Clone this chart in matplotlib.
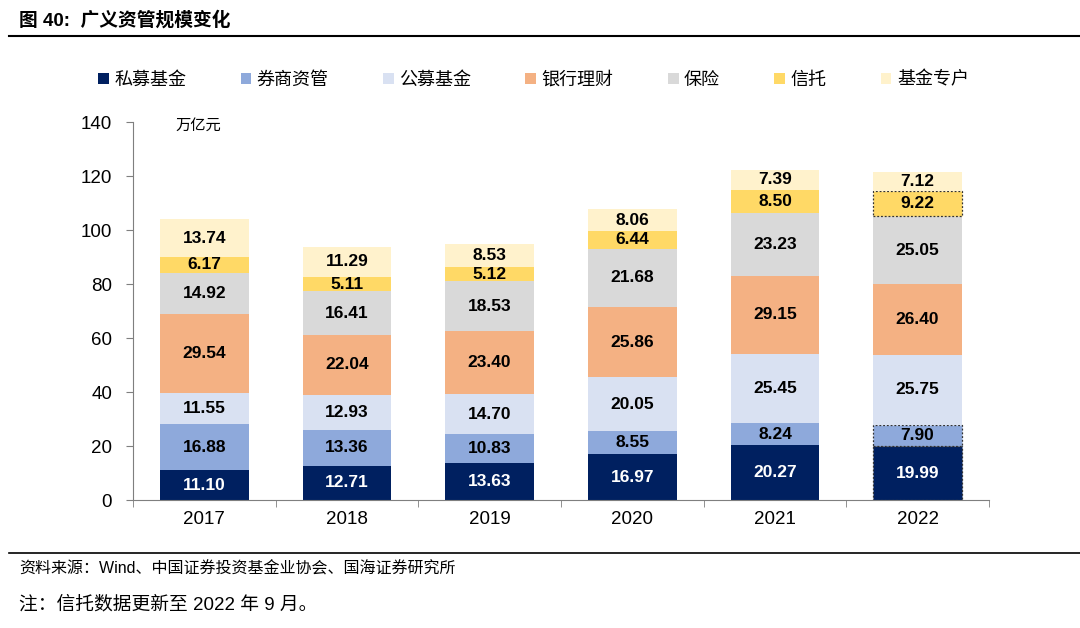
import matplotlib.pyplot as plt
import numpy as np

plt.rcParams['font.family'] = ['Liberation Sans', 'Noto Sans CJK SC', 'DejaVu Sans']

years = ['2017', '2018', '2019', '2020', '2021', '2022']
series_names = ['私募基金', '券商资管', '公募基金', '银行理财', '保险', '信托', '基金专户']
simu = [11.10, 12.71, 13.63, 16.97, 20.27, 19.99]
quanshang = [16.88, 13.36, 10.83, 8.55, 8.24, 7.90]
gongmu = [11.55, 12.93, 14.70, 20.05, 25.45, 25.75]
yinhang = [29.54, 22.04, 23.40, 25.86, 29.15, 26.40]
baoxian = [14.92, 16.41, 18.53, 21.68, 23.23, 25.05]
xintuo = [6.17, 5.11, 5.12, 6.44, 8.50, 9.22]
zhuanhu = [13.74, 11.29, 8.53, 8.06, 7.39, 7.12]

colors = ['#002060', '#8EA9DB', '#D9E1F2', '#F4B183', '#D9D9D9', '#FFD966', '#FFF2CC']
series = [simu, quanshang, gongmu, yinhang, baoxian, xintuo, zhuanhu]
# 2022 segments drawn with a dotted outline in the original
dotted = {0, 1, 5}

fig = plt.figure(figsize=(10.8, 6.28), dpi=100)
ax = fig.add_axes([0.1231, 0.2038, 0.7926, 0.6019])

x = np.arange(len(years))
bottom = np.zeros(len(years))
handles = []
for i, (vals, col) in enumerate(zip(series, colors)):
    vals = np.array(vals)
    bars = ax.bar(x, vals, width=0.62, bottom=bottom, color=col, label=series_names[i])
    handles.append(bars)
    if i in dotted:
        bars[-1].set_edgecolor('#333333')
        bars[-1].set_linestyle((0, (1.5, 1.5)))
        bars[-1].set_linewidth(0.9)
    for j, v in enumerate(vals):
        ax.text(x[j], bottom[j] + v / 2, f'{v:.2f}', ha='center', va='center',
                fontsize=12.5, fontweight='bold',
                color='white' if i == 0 else 'black')
    bottom += vals

ax.set_xlim(-0.5, len(years) - 0.5)
ax.set_ylim(0, 140)
ax.set_yticks(range(0, 141, 20))
ax.set_xticks(x)
ax.set_xticklabels(years)
ax.set_xticks(np.arange(-0.5, len(years), 1), minor=True)
ax.tick_params(axis='x', which='major', length=0, labelsize=13.5, pad=8)
ax.tick_params(axis='x', which='minor', length=5, color='#7f7f7f')
ax.tick_params(axis='y', labelsize=13.5, length=5, color='#7f7f7f', pad=10)
for s in ['top', 'right']:
    ax.spines[s].set_visible(False)
ax.spines['left'].set_color('#7f7f7f')
ax.spines['bottom'].set_color('#7f7f7f')

ax.text(0.05, 0.992, '万亿元', transform=ax.transAxes, fontsize=11,
        family=['Noto Sans CJK SC'], va='center', ha='left')

fig.legend(handles=handles, labels=series_names, loc='center', ncol=7,
           bbox_to_anchor=(0.494, 0.873), frameon=False,
           prop={'family': ['Noto Sans CJK SC'], 'size': 13},
           handlelength=0.6, handleheight=0.6, handletextpad=0.3, columnspacing=3.0)

fig.text(0.018, 0.968, '图 40:  广义资管规模变化', fontsize=13.5, fontweight='bold',
         va='center', ha='left')
fig.add_artist(plt.Line2D([0.008, 1.0], [0.942, 0.942], color='black', lw=1.5))
fig.add_artist(plt.Line2D([0.008, 1.0], [0.119, 0.119], color='black', lw=1.2))
fig.text(0.018, 0.095, '资料来源：Wind、中国证券投资基金业协会、国海证券研究所', fontsize=11.5,
         va='center', ha='left')
fig.text(0.018, 0.037, '注：信托数据更新至 2022 年 9 月。', fontsize=13.5,
         va='center', ha='left')

fig.savefig('out.png', dpi=100)
